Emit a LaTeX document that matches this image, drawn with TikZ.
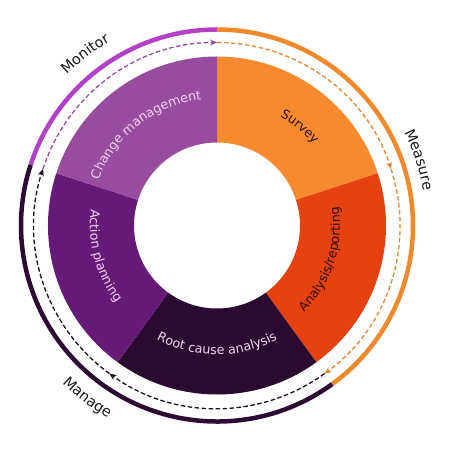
\documentclass[tikz,border=0pt]{standalone}
\usepackage{fontspec}
\setmainfont{DejaVu Sans}
\usetikzlibrary{arrows.meta,decorations.text}

\definecolor{survey}{HTML}{F7892F}
\definecolor{analysis}{HTML}{E5420F}
\definecolor{rootcause}{HTML}{2A0A30}
\definecolor{action}{HTML}{661A78}
\definecolor{change}{HTML}{984C9E}
\definecolor{monitorarc}{HTML}{B440C8}
\definecolor{measurearc}{HTML}{F0892A}
\definecolor{managearc}{HTML}{2D0A33}
\definecolor{monitordash}{HTML}{9A48A8}
\definecolor{measuredash}{HTML}{E8852E}
\definecolor{managedash}{HTML}{1E0A22}
\definecolor{darktext}{HTML}{1A1A1A}
\definecolor{segdark}{HTML}{2E1008}
\definecolor{seglight}{HTML}{F3D4F3}

\newcommand{\segfont}{\fontsize{12.7}{14}\selectfont}
\newcommand{\ringfont}{\fontsize{14.5}{16}\selectfont}

\tikzset{
    ringtext/.style={decorate, decoration={text along path, text align=center, text color=#1}},
    looparrow/.style={line width=1.3pt, dash pattern=on 4.5pt off 2.5pt, -{Stealth[length=7pt,width=6pt]}},
}

\begin{document}
\begin{tikzpicture}[x=1pt,y=1pt]
    \useasboundingbox (-217,-226.5) rectangle (233,225.5);
% segments
    \foreach \a/\b/\c in {90/18/survey,18/-54/analysis,-54/-126/rootcause,-126/-198/action,-198/-270/change}{
        \fill[\c] (\a:83) arc[start angle=\a, end angle=\b, radius=83] -- (\b:169) arc[start angle=\b, end angle=\a, radius=169] -- cycle;
    }
% phases
    \foreach \a/\b/\c in {162/90/monitorarc,90/-54/measurearc,-54/-198/managearc}{
        \draw[\c, line width=4.5pt] (\a:196) arc[start angle=\a, end angle=\b, radius=196];
    }
    \foreach \a/\b/\c in {162/90/monitordash,90/18/measuredash,18/-54/measuredash,-54/-126/managedash,-126/-198/managedash}{
        \draw[looparrow, \c] (\a:183) arc[start angle=\a, end angle=\b, radius=183];
    }
% segment labels
    \path[ringtext=seglight, decoration={text={|\segfont|Change management}}] (178:127) arc[start angle=178, end angle=78, radius=127];
    \path[ringtext=segdark, decoration={text={|\segfont|Survey}}] (100:126) arc[start angle=100, end angle=0, radius=126];
    \path[ringtext=segdark, decoration={text={|\segfont|Analysis/reporting}}] (-68:123) arc[start angle=-68, end angle=32, radius=123];
    \path[ringtext=seglight, decoration={text={|\segfont|Root cause analysis}}] (-140:129) arc[start angle=-140, end angle=-40, radius=129];
    \path[ringtext=seglight, decoration={text={|\segfont|Action planning}}] (145:127) arc[start angle=145, end angle=245, radius=127];
% phase labels
    \path[ringtext=darktext, decoration={text={|\ringfont|Monitor}}] (150:213) arc[start angle=150, end angle=105, radius=213];
    \path[ringtext=darktext, decoration={text={|\ringfont|Measure}}] (40:209) arc[start angle=40, end angle=-4, radius=209];
    \path[ringtext=darktext, decoration={text={|\ringfont|Manage}}] (213:221) arc[start angle=213, end angle=253, radius=221];
\end{tikzpicture}
\end{document}
